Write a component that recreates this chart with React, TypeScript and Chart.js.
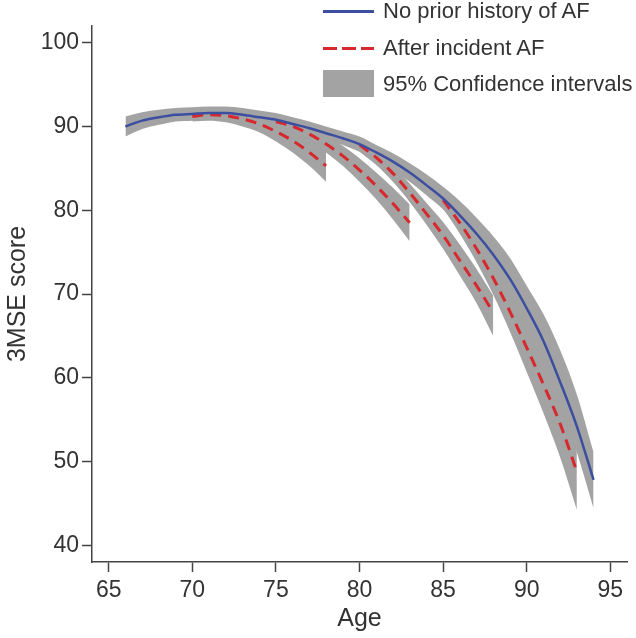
import React, { useEffect, useRef } from "react";
import { Chart, registerables } from "chart.js";

Chart.register(...registerables);

// ---------- data ----------
const xTicks = [65, 70, 75, 80, 85, 90, 95];
const yTicks = [40, 50, 60, 70, 80, 90, 100];

// No prior history of AF
const blueAges = [66, 67, 68, 69, 70, 71, 72, 73, 74, 75, 76, 77, 78, 79, 80, 81, 82, 83, 84, 85, 86, 87, 88, 89, 90, 91, 92, 93, 94];
const blueMean = [90.0, 90.7, 91.1, 91.4, 91.5, 91.6, 91.6, 91.4, 91.1, 90.8, 90.3, 89.8, 89.2, 88.6, 87.9, 86.9, 85.8, 84.5, 83.0, 81.4, 79.4, 77.2, 74.7, 71.8, 68.3, 64.4, 59.5, 54.2, 47.8];
const blueLower = [88.8, 89.7, 90.2, 90.6, 90.7, 90.8, 90.8, 90.6, 90.3, 90.0, 89.5, 89.0, 88.4, 87.8, 87.0, 86.0, 84.8, 83.4, 81.8, 80.1, 77.9, 75.6, 72.9, 69.8, 66.1, 61.9, 56.7, 51.1, 44.4];
const blueUpper = [91.2, 91.7, 92.0, 92.2, 92.3, 92.4, 92.4, 92.2, 91.9, 91.6, 91.1, 90.6, 90.0, 89.4, 88.8, 87.8, 86.8, 85.6, 84.3, 82.8, 81.1, 79.1, 76.9, 74.3, 71.0, 67.6, 63.3, 58.0, 51.1];

// After incident AF (four segments)
const af1Ages = [70, 71, 72, 73, 74, 75, 76, 77, 78];
const af1Mean = [91.2, 91.4, 91.3, 90.9, 90.3, 89.4, 88.3, 86.9, 85.3];
const af1Lower = [90.6, 90.7, 90.5, 90.0, 89.3, 88.2, 86.9, 85.3, 83.4];
const af1Upper = [91.8, 92.1, 92.1, 91.8, 91.3, 90.6, 89.7, 88.5, 87.2];

const af2Ages = [75, 76, 77, 78, 79, 80, 81, 82, 83];
const af2Mean = [90.6, 90.0, 89.1, 87.9, 86.5, 84.8, 82.9, 80.8, 78.5];
const af2Lower = [89.9, 89.2, 88.2, 86.9, 85.3, 83.4, 81.3, 78.9, 76.3];
const af2Upper = [91.3, 90.8, 90.0, 88.9, 87.7, 86.2, 84.5, 82.7, 80.7];

const af3Ages = [80, 81, 82, 83, 84, 85, 86, 87, 88];
const af3Mean = [87.8, 86.3, 84.4, 82.1, 79.6, 77.0, 74.0, 71.0, 67.8];
const af3Lower = [87.0, 85.4, 83.4, 81.0, 78.3, 75.4, 72.2, 68.9, 65.0];
const af3Upper = [88.6, 87.2, 85.3, 83.2, 80.9, 78.6, 75.9, 73.0, 69.8];

const af4Ages = [85, 86, 87, 88, 89, 90, 91, 92, 93];
const af4Mean = [81.2, 78.5, 75.4, 71.9, 67.9, 63.6, 59.2, 54.5, 48.8];
const af4Lower = [80.2, 77.2, 73.8, 69.9, 65.5, 60.7, 55.8, 50.5, 44.2];
const af4Upper = [82.2, 79.8, 77.0, 73.9, 70.3, 66.5, 62.6, 58.5, 53.4];

const legendLabels = ["No prior history of AF", "After incident AF", "95% Confidence intervals"];

// ---------- styles ----------
const BLUE = "#3c4e9f";
const RED = "#d6282d";
const GRAY = "#a3a3a3";
const AXIS = "#444444";
const TEXT = "#333333";
const FONT = "'Liberation Sans', Arial, Helvetica, sans-serif";

const pts = (xs: number[], ys: number[]) => xs.map((x, i) => ({ x, y: ys[i] }));

export default function App() {
  const ref = useRef<HTMLCanvasElement | null>(null);

  useEffect(() => {
    if (!ref.current) return;
    const lineDs = (xs: number[], ys: number[], color: string, dashed: boolean) => ({
      data: pts(xs, ys),
      borderColor: color,
      borderWidth: dashed ? 3 : 2.5,
      borderDash: dashed ? [11, 7] : [],
      pointRadius: 0,
      fill: false,
      cubicInterpolationMode: "monotone" as const,
    });
    const lowDs = (xs: number[], ys: number[]) => ({
      data: pts(xs, ys),
      borderColor: "rgba(0,0,0,0)",
      borderWidth: 0,
      pointRadius: 0,
      fill: false,
      cubicInterpolationMode: "monotone" as const,
    });
    const upDs = (xs: number[], ys: number[]) => ({
      data: pts(xs, ys),
      borderColor: "rgba(0,0,0,0)",
      borderWidth: 0,
      pointRadius: 0,
      backgroundColor: GRAY,
      fill: "-1",
      cubicInterpolationMode: "monotone" as const,
    });

    const datasets: any[] = [
      lineDs(blueAges, blueMean, BLUE, false),
      lineDs(af1Ages, af1Mean, RED, true),
      lineDs(af2Ages, af2Mean, RED, true),
      lineDs(af3Ages, af3Mean, RED, true),
      lineDs(af4Ages, af4Mean, RED, true),
      lowDs(blueAges, blueLower),
      upDs(blueAges, blueUpper),
      lowDs(af1Ages, af1Lower),
      upDs(af1Ages, af1Upper),
      lowDs(af2Ages, af2Lower),
      upDs(af2Ages, af2Upper),
      lowDs(af3Ages, af3Lower),
      upDs(af3Ages, af3Upper),
      lowDs(af4Ages, af4Lower),
      upDs(af4Ages, af4Upper),
    ];

    const chart = new Chart(ref.current, {
      type: "line",
      data: { datasets },
      options: {
        animation: false,
        responsive: false,
        devicePixelRatio: 1,
        events: [],
        layout: { padding: { top: 26, right: 9, left: 0, bottom: 0 } },
        plugins: { legend: { display: false }, tooltip: { enabled: false } },
        scales: {
          x: {
            type: "linear",
            min: 64,
            max: 96,
            afterBuildTicks: (s: any) => {
              s.ticks = xTicks.map((v) => ({ value: v }));
            },
            afterFit: (s: any) => {
              s.height = 76;
            },
            grid: { drawOnChartArea: false, drawTicks: true, tickLength: 10, tickWidth: 1.5, tickColor: AXIS },
            border: { display: true, color: AXIS, width: 1.5 },
            ticks: { color: TEXT, font: { family: FONT, size: 23 }, padding: 5, maxRotation: 0, autoSkip: false },
            title: { display: true, text: "Age", color: TEXT, font: { family: FONT, size: 25, lineHeight: 1 }, padding: { top: 0, bottom: 6 } },
          },
          y: {
            type: "linear",
            min: 38,
            max: 102,
            afterBuildTicks: (s: any) => {
              s.ticks = yTicks.map((v) => ({ value: v }));
            },
            afterFit: (s: any) => {
              s.width = 92;
            },
            grid: { drawOnChartArea: false, drawTicks: true, tickLength: 10, tickWidth: 1.5, tickColor: AXIS },
            border: { display: true, color: AXIS, width: 1.5 },
            ticks: { color: TEXT, font: { family: FONT, size: 23 }, padding: 3, autoSkip: false },
            title: { display: true, text: "3MSE score", color: TEXT, font: { family: FONT, size: 25, lineHeight: 1 }, padding: { top: 6, bottom: 0 } },
          },
        },
      },
    } as any);
    return () => chart.destroy();
  }, []);

  const textStyle: React.CSSProperties = {
    position: "absolute",
    left: 383,
    fontFamily: FONT,
    fontSize: 22,
    lineHeight: "22px",
    height: 22,
    color: TEXT,
    whiteSpace: "nowrap",
  };

  return (
    <div style={{ position: "fixed", left: 0, top: 0, width: 636, height: 638, background: "#fff" }}>
      <canvas ref={ref} width={636} height={638} style={{ display: "block", width: 636, height: 638 }} />
      <div style={{ position: "absolute", left: 323, top: 10, width: 51, height: 2.5, background: BLUE }} />
      <div style={{ ...textStyle, top: 0 }}>{legendLabels[0]}</div>
      <div
        style={{
          position: "absolute",
          left: 323,
          top: 47,
          width: 51,
          height: 3,
          background: `repeating-linear-gradient(to right, ${RED} 0px, ${RED} 14.5px, transparent 14.5px, transparent 19px)`,
        }}
      />
      <div style={{ ...textStyle, top: 37 }}>{legendLabels[1]}</div>
      <div style={{ position: "absolute", left: 323, top: 70, width: 51, height: 27, background: GRAY }} />
      <div style={{ ...textStyle, top: 73 }}>{legendLabels[2]}</div>
    </div>
  );
}
